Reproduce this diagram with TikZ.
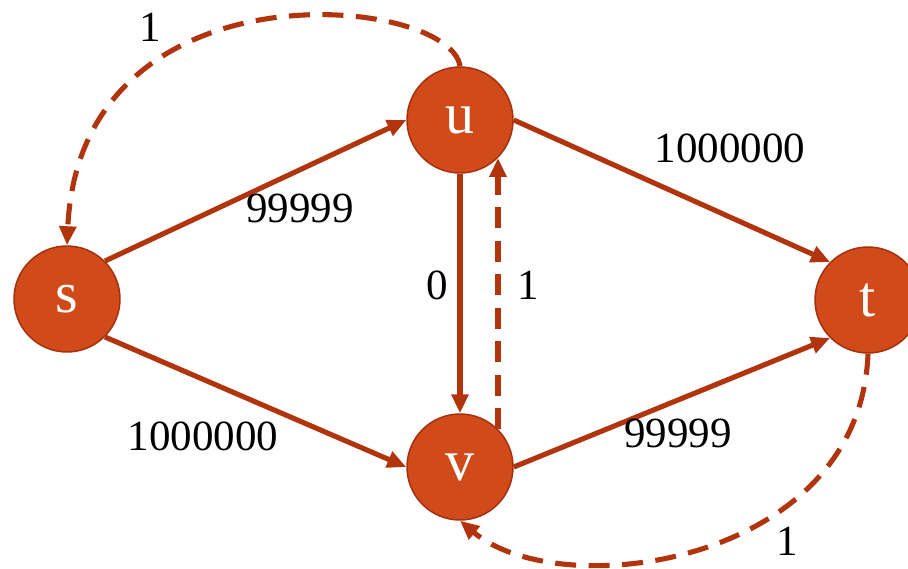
\documentclass[tikz,border=0pt]{standalone}
\usepackage{fontspec}
\setmainfont{Liberation Serif}
\usetikzlibrary{arrows.meta}
\definecolor{nodeFill}{RGB}{209,74,26}
\definecolor{nodeLine}{RGB}{165,48,14}
\definecolor{edgeCol}{RGB}{178,52,12}

\begin{document}
\begin{tikzpicture}[
  x=0.02cm, y=-0.02cm,
  vertex/.style={circle, fill=nodeFill, draw=nodeLine, line width=0.85pt, minimum size=2.12cm, inner sep=0pt, text=white, font=\fontsize{33}{40}\selectfont},
  arrow/.style={-{Triangle[length=0.38cm, width=0.33cm]}, draw=edgeCol, line width=2.9pt},
  back/.style={arrow, dash pattern=on 0.42cm off 0.25cm},
  weight/.style={font=\fontsize{24.5}{30}\selectfont},
]
\useasboundingbox (0,0) rectangle (908,568);

% Vertices
\node[vertex] (s) at (67,299) {s};
\node[vertex] (u) at (460,120) {u};
\node[vertex] (v) at (460,467) {v};
\node[vertex] (t) at (868,300) {t};

% Forward edges
\draw[arrow] (s.north east) -- (u.west);
\draw[arrow] (s.south east) -- (v.west);
\draw[arrow] (u.east) -- (t.north west);
\draw[arrow] (v.east) -- (t.south west);
\draw[arrow] (u.south) -- (v.north);

% Residual edges (dashed)
\draw[back] (v.north east) -- (u.south east);
\draw[back] (u.north) .. controls (450,-5) and (80,-42) .. (s.north);
\draw[back] (t.south) .. controls (860,565) and (560,605) .. (v.south);

% Capacities
\node[weight] (wsu) at (300,208) {99999};
\node[weight] (wsv) at (203,436) {1000000};
\node[weight] (wut) at (730,148) {1000000};
\node[weight] (wvt) at (678,433) {99999};
\node[weight] (wuv) at (437,285) {0};
\node[weight] (wvu) at (528,285) {1};
\node[weight] (wus) at (150,27) {1};
\node[weight] (wtv) at (787,541) {1};

\end{tikzpicture}
\end{document}
